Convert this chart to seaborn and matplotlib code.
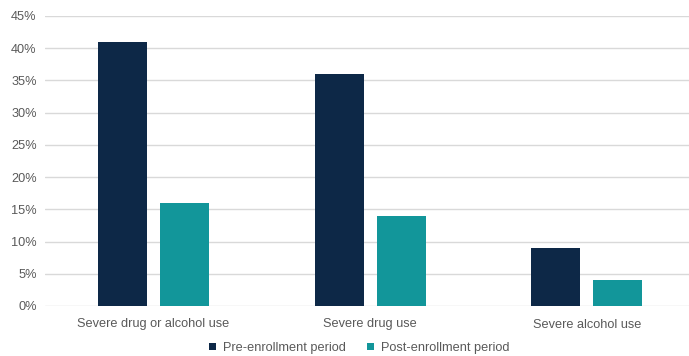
import matplotlib
matplotlib.use("Agg")
import matplotlib.pyplot as plt
import seaborn as sns
import pandas as pd
from matplotlib.ticker import MultipleLocator, FuncFormatter

categories = ["Severe drug or alcohol use", "Severe drug use", "Severe alcohol use"]
periods = ["Pre-enrollment period", "Post-enrollment period"]
pre_values = [41, 36, 9]
post_values = [16, 14, 4]
colors = ["#0d2847", "#12969a"]

df = pd.DataFrame({
    "category": categories * 2,
    "period": [periods[0]] * 3 + [periods[1]] * 3,
    "value": pre_values + post_values,
})

sns.set_theme(style="white")
plt.rcParams["font.family"] = ["Liberation Sans", "DejaVu Sans"]

fig = plt.figure(figsize=(6.89, 3.56), dpi=100)
ax = fig.add_axes([45 / 689, 50 / 356, 644 / 689, 290 / 356])

sns.barplot(data=df, x="category", y="value", hue="period", palette=colors,
            width=0.572, gap=0.21, ax=ax, saturation=1, errorbar=None, legend=True,
            linewidth=0, edgecolor="none")

ax.set_ylim(0, 45)
ax.set_xlim(-0.5, 2.471)
ax.yaxis.set_major_locator(MultipleLocator(5))
ax.yaxis.set_major_formatter(FuncFormatter(lambda v, p: f"{v:.0f}%"))
ax.grid(axis="y", color="#d9d9d9", linewidth=1)
ax.set_axisbelow(True)
for s in ax.spines.values():
    s.set_visible(False)
ax.set_xlabel("")
ax.set_ylabel("")
ax.tick_params(axis="both", length=0, labelsize=9.2, colors="#595959")
ax.tick_params(axis="x", pad=9)
ax.tick_params(axis="y", pad=6)

handles, labels = ax.get_legend_handles_labels()
ax.legend(handles, labels, loc="upper center", bbox_to_anchor=(0.488, -0.085),
          ncol=2, frameon=False, fontsize=9.2, handlelength=0.55, handleheight=0.55,
          handletextpad=0.6, columnspacing=1.6, labelcolor="#595959")

fig.savefig("out.png", dpi=100)
